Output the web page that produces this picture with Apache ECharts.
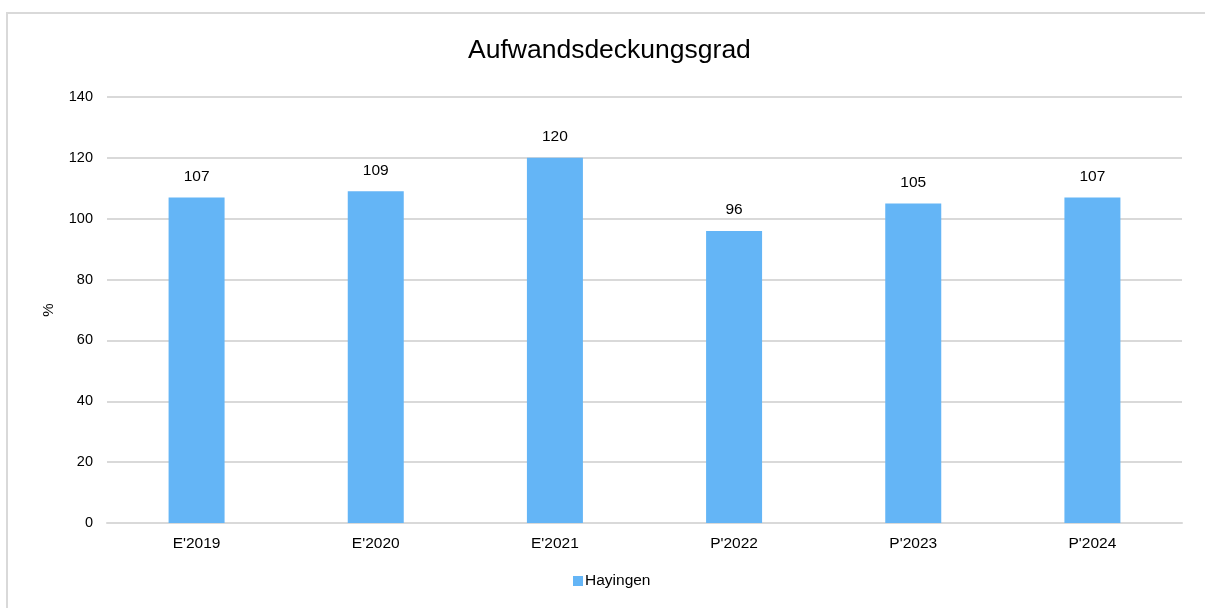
<!DOCTYPE html>
<html>
<head>
<meta charset="utf-8">
<script src="https://cdn.jsdelivr.net/npm/echarts@6/dist/echarts.min.js"></script>
<style>
  html, body { margin: 0; padding: 0; background: #fff; }
  #chart { width: 1205px; height: 608px; }
</style>
</head>
<body>
<div id="chart"></div>
<script>
const categories = ["E'2019", "E'2020", "E'2021", "P'2022", "P'2023", "P'2024"];
const values = [107, 109, 120, 96, 105, 107];
const seriesName = 'Hayingen';

const font = '"Liberation Sans", Arial, sans-serif';
const myChart = echarts.init(document.getElementById('chart'));
const option = {
  backgroundColor: '#fff',
  animation: false,
  textStyle: { fontFamily: font },
  title: {
    text: 'Aufwandsdeckungsgrad',
    left: 463,
    top: 32,
    textStyle: { fontSize: 26.5, fontWeight: 'normal', color: '#000', fontFamily: font },
  },
  graphic: [{
    type: 'rect',
    z: -1,
    shape: { x: 7, y: 13, width: 1230, height: 620 },
    style: { fill: 'none', stroke: '#d9d9d9', lineWidth: 2 },
  }],
  grid: { left: 107, right: 23, top: 97, bottom: 85, containLabel: false },
  legend: {
    bottom: 14,
    left: 568,
    itemWidth: 10,
    itemHeight: 10,
    itemGap: 5,
    icon: 'rect',
    textStyle: { fontSize: 15.5, color: '#000', fontFamily: font, padding: [0, 0, 0, -3] },
    data: [seriesName],
  },
  xAxis: {
    type: 'category',
    data: categories,
    axisTick: { show: false },
    axisLine: { lineStyle: { color: '#d9d9d9', width: 2 } },
    axisLabel: { fontSize: 15.5, color: '#000', margin: 13, fontFamily: font },
  },
  yAxis: {
    type: 'value',
    name: '%',
    nameLocation: 'middle',
    nameGap: 51,
    nameRotate: 90,
    nameTextStyle: { fontSize: 15, color: '#000', fontFamily: font },
    min: 0,
    max: 140,
    interval: 20,
    axisLine: { show: false },
    axisTick: { show: false },
    axisLabel: { fontSize: 14.5, color: '#000', margin: 14, fontFamily: font },
    splitLine: { lineStyle: { color: '#d9d9d9', width: 2 } },
  },
  series: [{
    name: seriesName,
    type: 'bar',
    data: values,
    barWidth: 56,
    itemStyle: { color: '#64B5F6' },
    label: {
      show: true,
      position: 'top',
      distance: 13,
      fontSize: 15.5,
      color: '#000',
      fontFamily: font,
    },
  }],
};
myChart.setOption(option);
</script>
</body>
</html>
